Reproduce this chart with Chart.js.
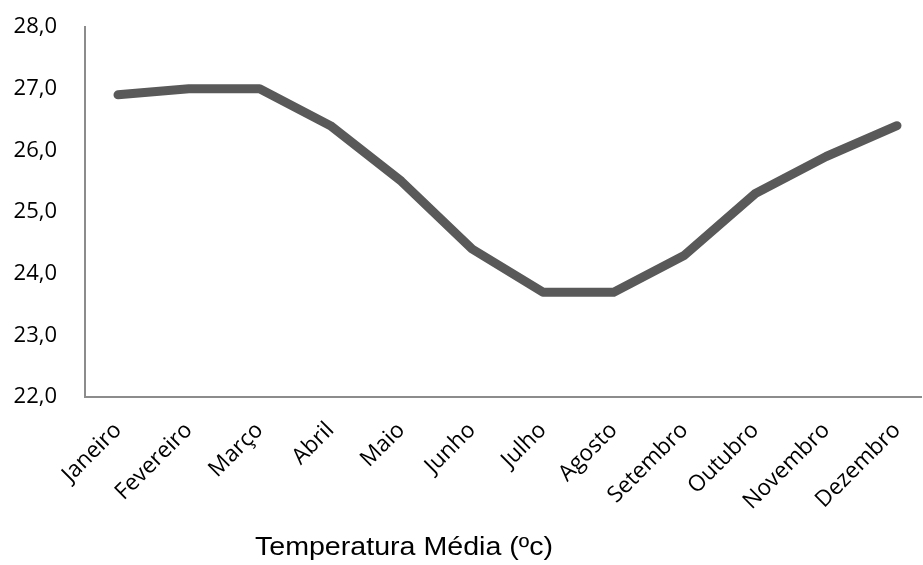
<!DOCTYPE html>
<html>
<head>
<meta charset="utf-8">
<script src="https://cdn.jsdelivr.net/npm/chart.js@4"></script>
<style>
  html, body { margin: 0; padding: 0; background: #fff; overflow: hidden; }
  #wrap { width: 923px; height: 565px; }
</style>
</head>
<body>
<div id="wrap"><canvas id="c" width="923" height="565"></canvas></div>
<script>
// Meses do ano
const months = ['Janeiro', 'Fevereiro', 'Março', 'Abril', 'Maio', 'Junho',
                'Julho', 'Agosto', 'Setembro', 'Outubro', 'Novembro', 'Dezembro'];
// Temperatura média mensal (ºC)
const temperatures = [26.9, 27.0, 27.0, 26.4, 25.5, 24.4, 23.7, 23.7, 24.3, 25.3, 25.9, 26.4];
// Escala vertical
const yTicks = [22, 23, 24, 25, 26, 27, 28];
const chartTitle = 'Temperatura Média (ºc)';

const points = temperatures.map((t, i) => ({ x: i, y: t }));

// Título do gráfico, centrado sob o eixo horizontal
const bottomTitle = {
  id: 'bottomTitle',
  afterDraw(chart) {
    const ctx = chart.ctx;
    ctx.save();
    ctx.font = '26px "Liberation Sans", Arial, sans-serif';
    ctx.fillStyle = '#000';
    ctx.textAlign = 'center';
    ctx.textBaseline = 'alphabetic';
    ctx.translate(404, 555);
    ctx.scale(1.1, 1);
    ctx.fillText(chartTitle, 0, 0);
    ctx.restore();
  }
};

new Chart(document.getElementById('c'), {
  type: 'line',
  data: {
    datasets: [{
      data: points,
      borderColor: '#595959',
      borderWidth: 9,
      borderCapStyle: 'round',
      borderJoinStyle: 'round',
      pointRadius: 0,
      tension: 0,
      fill: false
    }]
  },
  options: {
    responsive: false,
    animation: false,
    layout: { padding: { left: 0, right: 2, top: 27, bottom: 0 } },
    plugins: { legend: { display: false }, tooltip: { enabled: false } },
    scales: {
      x: {
        type: 'linear',
        min: -0.466,
        max: 11.339,
        grid: { display: false, drawTicks: false },
        border: { display: true, color: '#8c8c8c', width: 2 },
        afterBuildTicks(scale) {
          scale.ticks = months.map((_, i) => ({ value: i }));
        },
        afterFit(scale) {
          scale.height = 168;
          scale.paddingLeft = 0;
          scale.paddingRight = 0;
        },
        ticks: {
          autoSkip: false,
          maxRotation: 45,
          minRotation: 45,
          padding: 20,
          color: '#000',
          font: { family: '"Open Sans", sans-serif', size: 22.5 },
          callback: (v) => months[v] ?? ''
        }
      },
      y: {
        min: 22,
        max: 28,
        grid: { display: false, drawTicks: false },
        border: { display: true, color: '#8c8c8c', width: 2 },
        afterBuildTicks(scale) {
          scale.ticks = yTicks.map(v => ({ value: v }));
        },
        afterFit(scale) {
          scale.width = 85;
          scale.paddingTop = 0;
          scale.paddingBottom = 0;
        },
        ticks: {
          padding: 28,
          color: '#000',
          font: { family: '"Open Sans", sans-serif', size: 22 },
          callback: (v) => v.toFixed(1).replace('.', ',')
        }
      }
    }
  },
  plugins: [bottomTitle]
});
</script>
</body>
</html>
